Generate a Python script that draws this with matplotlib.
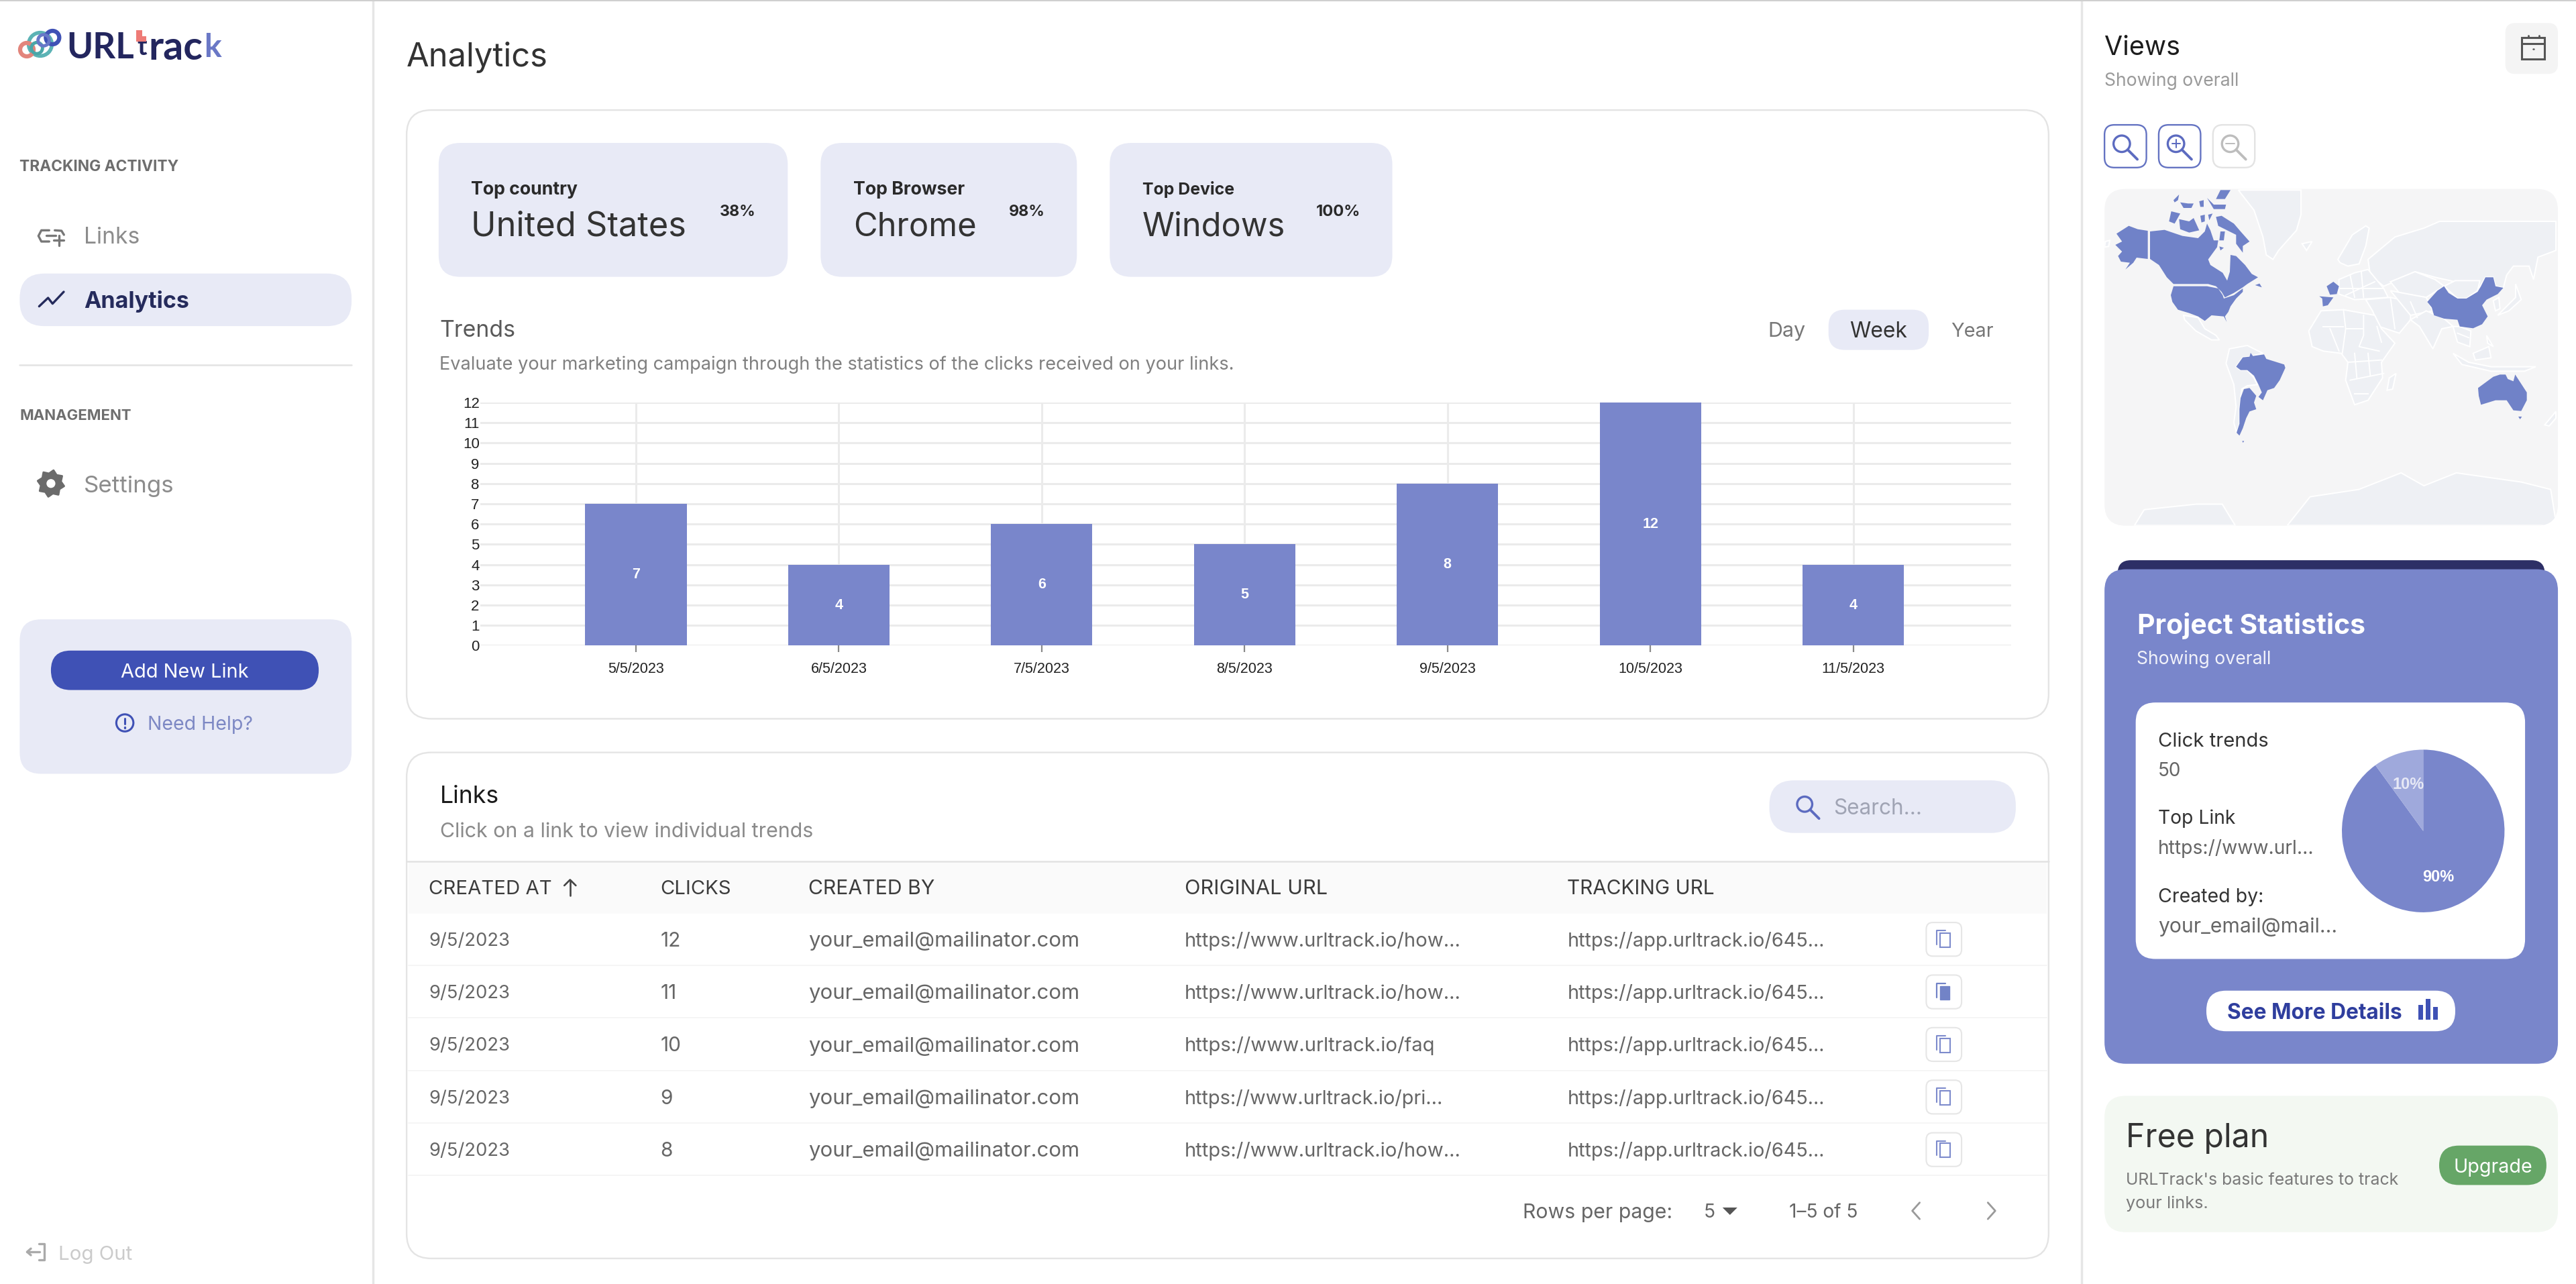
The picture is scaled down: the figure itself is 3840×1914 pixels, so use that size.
import math
import matplotlib
matplotlib.use("Agg")
import matplotlib.pyplot as plt
from matplotlib.patches import FancyBboxPatch, Polygon, Circle, Rectangle, Arc

# ---------- chart data ----------
dates = ["5/5/2023", "6/5/2023", "7/5/2023", "8/5/2023", "9/5/2023", "10/5/2023", "11/5/2023"]
clicks = [7, 4, 6, 5, 8, 12, 4]
pie_values = [90, 10]

stat_labels = ["Top country", "Top Browser", "Top Device"]
stat_values = ["United States", "Chrome", "Windows"]
stat_pcts = ["38%", "98%", "100%"]

headers = ["CREATED AT", "CLICKS", "CREATED BY", "ORIGINAL URL", "TRACKING URL"]
row_dates = ["9/5/2023"] * 5
row_clicks = ["12", "11", "10", "9", "8"]
row_by = ["your_email@mailinator.com"] * 5
row_orig = ["https://www.urltrack.io/how...", "https://www.urltrack.io/how...", "https://www.urltrack.io/faq",
            "https://www.urltrack.io/pri...", "https://www.urltrack.io/how..."]
row_track = ["https://app.urltrack.io/645..."] * 5

# ---------- palette ----------
INDIGO = "#7986cb"; LIGHT = "#e8eaf6"; PRIMARY = "#3f51b5"; NAVY = "#252b5c"

W, H = 3840, 1914
S = W / 1568.0
fig = plt.figure(figsize=(W / 100, H / 100), dpi=100, facecolor="white")
plt.rcParams["font.family"] = ["Inter", "DejaVu Sans"]
ui = fig.add_axes([0, 0, 1, 1])
ui.set_xlim(0, 1568); ui.set_ylim(H / S, 0); ui.axis("off")
renderer = fig.canvas.get_renderer()
PT = S * 0.72


def T(x, y, s, size=12, color="#333333", weight="normal", ha="left", w=None, family=None, z=5):
    kw = {"family": family} if family else {}
    t = ui.text(x, y, s, fontsize=size * PT, color=color, weight=weight, ha=ha, va="center_baseline", zorder=z, **kw)
    if w:
        bb = t.get_window_extent(renderer)
        t.set_fontsize(t.get_fontsize() * w * S / bb.width)
    return t


def RR(x0, y0, x1, y1, r, fc="none", ec="none", lw=0, z=1):
    p = FancyBboxPatch((x0, y0), x1 - x0, y1 - y0, boxstyle=f"round,pad=0,rounding_size={r}",
                       fc=fc, ec=ec, lw=lw, zorder=z)
    ui.add_patch(p)
    return p


def L(xs, ys, c="#888888", lw=2.0, z=6):
    ui.plot(xs, ys, color=c, lw=lw, solid_capstyle="round", solid_joinstyle="round", zorder=z)


def mag(cx, cy, r, c, lw=2.4, sign=None):
    ui.add_patch(Circle((cx, cy), r, fc="none", ec=c, lw=lw, zorder=6))
    L([cx + r * .72, cx + r * 1.9], [cy + r * .72, cy + r * 1.9], c, lw * 1.15)
    if sign:
        L([cx - r * .5, cx + r * .5], [cy, cy], c, lw * .6)
        if sign == "+":
            L([cx, cx], [cy - r * .5, cy + r * .5], c, lw * .6)


def g(ox, oy, k, pts):
    """crop-grid points -> layout units"""
    return [((ox + a / k) / S, (oy + b / k) / S) for a, b in pts]


# ---------- frame ----------
ui.add_patch(Rectangle((0, 0), 1568, 0.9, fc="#cfcfcf", ec="none", zorder=8))
L([227, 227], [0, 782], "#e6e6e6", 2.5, 1)
L([1267, 1267], [0, 782], "#e6e6e6", 2.5, 1)

# ---------- logo ----------
LO = (15, 30, 3)
def logo_arc(cx, cy, r, c, lw=4.5):
    (dx, dy), = g(*LO, [(cx, cy)])
    ui.add_patch(Circle((dx, dy), r / 3 / S, fc="none", ec=c, lw=lw, zorder=4))
logo_arc(135, 108, 52, "#5cb3b5", 4)
logo_arc(75, 132, 30, "#e2857c", 4.5)
logo_arc(190, 78, 30, "#3f51b5", 4.5)
logo_arc(120, 125, 25, "#4aa6a8", 3.5)
logo_arc(150, 90, 25, "#6878c8", 3.5)
T(40.5, 27.5, "URL", 21, "#23265e", "bold", w=41, family="Lato")
T(83.5, 27.5, "t", 21, "#23265e", "bold", w=6, family="Lato")
ui.add_patch(Polygon(g(*LO, [(565, 45), (590, 45), (590, 72), (610, 72), (610, 95), (565, 95)]), fc="#ee7b76", ec="none", zorder=6))
T(90.5, 27.5, "rac", 21, "#23265e", "bold", w=33, family="Lato")
T(124, 27.5, "k", 21, "#6a78c6", "bold", w=10.5, family="Lato")

# ---------- sidebar ----------
T(12, 100.5, "TRACKING ACTIVITY", 8.5, "#6e6e6e", "bold", w=97)
LK = (30, 320, 3)
for poly in [[(130, 70), (95, 70), (82, 95), (95, 120), (130, 120)], [(118, 93), (160, 93)], [(155, 70), (185, 72), (196, 90)],
             [(150, 115), (196, 115)], [(174, 93), (174, 137)]]:
    pts = g(*LK, poly)
    L([p[0] for p in pts], [p[1] for p in pts], "#777777", 2.4)
T(51, 143, "Links", 14, "#8c8c8c", w=34)
RR(12, 166.5, 214, 198.5, 15, fc=LIGHT)
pts = g(*LK, [(85, 410), (125, 372), (145, 398), (195, 345)])
L([p[0] for p in pts], [p[1] for p in pts], NAVY, 2.4)
T(51, 182, "Analytics", 14, NAVY, "bold", w=64)
L([12, 214], [222, 222], "#e3e3e3", 1.8, 2)
T(12, 252.5, "MANAGEMENT", 8.5, "#6e6e6e", "bold", w=68)
gear = []
for i in range(16):
    a = math.pi * 2 * i / 16 + math.pi / 16
    r = 8.2 if i % 2 == 0 else 6.2
    gear.append((31 + r * math.cos(a), 294.3 + r * math.sin(a)))
ui.add_patch(Polygon(gear, fc="#6b6b6b", ec="#6b6b6b", lw=2, joinstyle="round", zorder=5))
ui.add_patch(Circle((31, 294.3), 2.7, fc="white", ec="none", zorder=6))
T(51, 294.5, "Settings", 14, "#8c8c8c", w=55)
RR(12, 377, 214, 471, 13, fc=LIGHT)
RR(31, 396, 194, 420, 12, fc=PRIMARY, z=2)
T(112.5, 408, "Add New Link", 11, "white", ha="center", w=78)
ui.add_patch(Circle((76, 440), 5.2, fc="none", ec=PRIMARY, lw=2.2, zorder=6))
L([76, 76], [437.2, 440.5], PRIMARY, 2.2); L([76, 76], [442.8, 442.9], PRIMARY, 2.4)
T(90, 440, "Need Help?", 10.5, "#7d88c4", w=64)
L([23.5, 27, 27, 23.5], [757, 757, 767, 767], "#aaaaaa", 2.4)
L([16.5, 24], [762, 762], "#aaaaaa", 2.4); L([18.8, 16.5, 18.8], [760, 762, 764], "#aaaaaa", 2.4)
T(35.5, 762.5, "Log Out", 10.5, "#cbcbcb", w=45)

# ---------- main head ----------
T(247.5, 33, "Analytics", 18.5, "#333333", w=86)
RR(247.5, 67, 1247, 437.5, 15, fc="white", ec="#e4e4e4", lw=1.7)
stat_x = [(267, 479.5), (499.5, 655.5), (675.5, 847.5)]
stat_pct_x = [438, 614, 801]
stat_lab_w = [65, 68, 56]
stat_val_w = [131, 75, 87]
stat_pct_w = [22, 22, 27]
for (a, b), lab, val, pct, px, lw_, vw, pw in zip(stat_x, stat_labels, stat_values, stat_pcts, stat_pct_x, stat_lab_w, stat_val_w, stat_pct_w):
    RR(a, 87, b, 168.5, 13, fc=LIGHT, z=2)
    T(a + 19.8, 114.5, lab, 10, "#2a2a2a", "bold", w=lw_)
    T(a + 19.8, 136, val, 20, "#333333", w=vw)
    T(px, 128, pct, 10, "#2a2a2a", "bold", w=pw)
T(267.5, 200, "Trends", 14, "#5a5a5a", w=46)
T(267.5, 221, "Evaluate your marketing campaign through the statistics of the clicks received on your links.", 10, "#808080", w=483)
RR(1113, 188.5, 1174, 213, 10, fc=LIGHT, z=2)
T(1087.5, 200.5, "Day", 12.5, "#777777", ha="center", w=23)
T(1143.5, 200.5, "Week", 12.5, "#333333", ha="center", w=35)
T(1200.5, 200.5, "Year", 12.5, "#777777", ha="center", w=26)

# ---------- bar chart ----------
ax = fig.add_axes([292.4 * S / W, 1 - 393 * S / H, (1224 - 292.4) * S / W, (393 - 245) * S / H], zorder=3)
ax.patch.set_alpha(0)
xpos = list(range(len(dates)))
bars = ax.bar(xpos, clicks, width=0.5, color=INDIGO, zorder=3)
ax.set_xlim(-0.767, 6.777); ax.set_ylim(0, 12)
ax.set_yticks(range(0, 13)); ax.set_xticks(xpos, dates)
ax.grid(True, color="#ebebeb", lw=2.2, zorder=0); ax.set_axisbelow(True)
for s_ in ax.spines.values():
    s_.set_visible(False)
ax.tick_params(axis="y", length=0, pad=1, labelsize=16, labelcolor="#222222")
ax.tick_params(axis="x", length=7.5, width=1.6, color="#8a8a8a", pad=10, labelsize=15.5, labelcolor="#222222")
for lab in ax.get_xticklabels() + ax.get_yticklabels():
    lab.set_family("Liberation Sans")
ax.bar_label(bars, label_type="center", color="white", fontsize=15.5, fontweight="bold", family="Liberation Sans")

# ---------- links table ----------
RR(247.5, 458, 1247, 766, 15, fc="white", ec="#e4e4e4", lw=1.7)
T(268, 483.5, "Links", 16, "#1a1a1a", w=36)
T(268, 505, "Click on a link to view individual trends", 12, "#8a8a8a", w=227)
RR(1077, 475, 1227, 507, 15, fc=LIGHT, z=2)
mag(1098.5, 489.5, 4.6, "#5c6bc0", 2.4)
T(1116, 491, "Search...", 13, "#a0a4b4", w=54)
ui.add_patch(Rectangle((248.5, 524.5), 997.5, 31.5, fc="#fafafa", ec="none", zorder=2))
L([248, 1247], [524.5, 524.5], "#e2e2e2", 1.8, 3)
col_x = [261, 402, 492, 721, 954]
hdr_w = [75, 43, 77, 87, 90]
for x_, h_, w_ in zip(col_x, headers, hdr_w):
    T(x_, 540, h_, 12, "#3c3c3c", w=w_)
L([347, 347], [536, 545], "#444444", 1.9); L([343.5, 347, 350.5], [539, 535.5, 539], "#444444", 1.9)
row_y = [571.5, 603.5, 635.5, 667.5, 699.5]
orig_w = [168, 168, 152.5, 157, 168]
for i, y_ in enumerate(row_y):
    T(261, y_, row_dates[i], 12, "#666666", w=49.5)
    T(402, y_, row_clicks[i], 12.2, "#666666")
    T(492, y_, row_by[i], 12, "#666666", w=165)
    T(721, y_, row_orig[i], 12, "#666666", w=orig_w[i])
    T(954, y_, row_track[i], 12, "#666666", w=156.5)
    L([248.5, 1246], [y_ + 16, y_ + 16], "#f5f5f5", 1.4, 2)
    RR(1172.5, y_ - 10, 1194, y_ + 10.5, 4, fc="white", ec="#e6e6e6", lw=1.5, z=3)
    if i == 1:
        ui.add_patch(Rectangle((1180.8, y_ - 3.2), 5.8, 8.2, fc="#7283c7", ec="#7283c7", lw=1, zorder=6))
        L([1179, 1179, 1184], [y_ + 3.5, y_ - 5, y_ - 5], "#7283c7", 1.6)
    else:
        ui.add_patch(Rectangle((1181, y_ - 3.5), 6, 8.5, fc="white", ec="#7d8bcc", lw=1.5, zorder=6))
        L([1179, 1179, 1184], [y_ + 3.5, y_ - 5, y_ - 5], "#7d8bcc", 1.5)
T(927, 737, "Rows per page:", 12, "#666666", w=91)
T(1037, 737, "5", 12, "#666666", w=7)
ui.add_patch(Polygon([(1048.5, 735), (1057.5, 735), (1053, 739.5)], fc="#555555", ec="none", zorder=6))
T(1089, 737, "1\u20135 of 5", 12, "#666666", w=42)
L([1168.5, 1164, 1168.5], [732, 737, 742], "#9a9a9a", 2)
L([1210, 1214.5, 1210], [732, 737, 742], "#9a9a9a", 2)

# ---------- right panel ----------
T(1281, 27.5, "Views", 15, "#1c1c1c", w=46)
T(1281, 48, "Showing overall", 10.5, "#9a9a9a", w=82)
RR(1525, 14, 1557, 45, 6, fc="#f4f4f4", z=2)
ui.add_patch(Rectangle((1535, 23), 14, 13, fc="none", ec="#555555", lw=2.2, zorder=6))
L([1535, 1549], [26.5, 26.5], "#555555", 2.2)
L([1539, 1539], [21.5, 23], "#555555", 2); L([1545.5, 1545.5], [21.5, 23], "#555555", 2)
L([1539, 1539.1], [30, 30], "#555555", 1.8); L([1542, 1542.1], [30, 30], "#555555", 1.8); L([1545, 1545.1], [30, 30], "#555555", 1.8)
for bx, ec_, ic_, sg in [(1281, "#6473c2", "#5c6bc0", None), (1314, "#6473c2", "#5c6bc0", "+"), (1347, "#e3e3e3", "#bdbdbd", "-")]:
    RR(bx, 76, bx + 25.5, 102, 6, fc="white", ec=ec_, lw=1.7, z=2)
    mag(bx + 10.5, 87.5, 5, ic_, 2.4, sg)

# ---------- world map ----------
map_bg = RR(1281, 115, 1557, 320, 13, fc="#f5f5f6", z=2)
GA = (3130, 280, 3); GB = (3310, 510, 3); GC = (3430, 330, 3)
OLD = (3080, 0)
def old_grid(pts):
    return [((3080 + a / 2.063) / S, (b / 1.823) / S) for a, b in pts]

land_polys = [
    g(*GA, [(620, 10), (900, 10), (900, 120), (880, 190), (800, 280), (775, 320), (745, 300), (730, 220), (690, 100)]),
    g(*GA, [(375, 570), (440, 580), (470, 630), (520, 660), (535, 680), (500, 680), (430, 640), (380, 590)]),
    g(*GA, [(25, 240), (45, 235), (40, 262), (22, 265)]),
    g(*GB, [(40, 30), (120, 15), (190, 50), (130, 65), (100, 68), (70, 110), (90, 125), (120, 125), (150, 160), (165, 190), (120, 195), (95, 210), (90, 250), (85, 300), (85, 365), (72, 405), (60, 360), (70, 290), (60, 190), (25, 95)]),
    g(*GC, [(300, 170), (420, 70), (550, 30), (620, 0), (1140, 0), (1140, 130), (1060, 160), (1040, 260), (1020, 200), (950, 200), (920, 240), (905, 297), (870, 290), (860, 250), (825, 250), (790, 310), (740, 345), (690, 270), (600, 250), (510, 225), (440, 260), (370, 290), (310, 240)]),
    g(*GC, [(400, 270), (510, 225), (600, 260), (640, 290), (560, 340), (440, 320)]),
    g(*GC, [(690, 265), (800, 265), (790, 310), (740, 345), (700, 345), (640, 290)]),
    g(*GC, [(165, 170), (230, 60), (290, 20), (305, 30), (290, 110), (260, 190), (210, 200), (175, 185)]),
    g(*GC, [(170, 260), (240, 230), (300, 215), (370, 300), (390, 340), (240, 350), (170, 325)]),
    g(*GC, [(290, 350), (400, 340), (490, 360), (490, 440), (440, 500), (350, 470), (320, 400)]),
    g(*GC, [(400, 310), (560, 340), (590, 400), (490, 420)]),
    g(*GC, [(490, 440), (560, 400), (640, 435), (680, 470), (630, 480), (590, 570), (560, 520), (530, 470)]),
    g(*GC, [(680, 470), (710, 470), (760, 490), (755, 560), (700, 540)]),
    g(*GC, [(35, 490), (90, 400), (190, 395), (330, 420), (360, 480), (420, 545), (360, 630), (365, 700), (300, 800), (240, 820), (200, 710), (210, 630), (180, 590), (100, 580), (50, 560)]),
    g(*GC, [(385, 755), (395, 700), (425, 680), (410, 750)]),
    g(*GC, [(680, 590), (750, 630), (850, 650), (1050, 650), (1000, 670), (850, 670), (720, 640)]),
    g(*GC, [(770, 590), (840, 560), (850, 610), (780, 620)]),
    g(*GC, [(830, 510), (860, 560), (835, 545)]),
    g(*GC, [(880, 420), (960, 340), (960, 280), (985, 350), (930, 400)]),
    g(*GC, [(860, 355), (885, 340), (890, 390), (870, 400)]),
    g(*GC, [(5, 100), (50, 90), (25, 130)]),
    g(*GC, [(1090, 910), (1140, 850), (1140, 880), (1110, 915)]),
    old_grid([(680, 1428), (750, 1350), (900, 1330), (1030, 1285), (1100, 1320), (1200, 1285), (1400, 1310), (1490, 1330), (1508, 1428)]),
    old_grid([(210, 1428), (240, 1385), (400, 1370), (480, 1370), (520, 1428)]),
]
for poly in land_polys:
    p = Polygon(poly, fc="#eef0f4", ec="white", lw=1.5, zorder=3)
    ui.add_patch(p); p.set_clip_path(map_bg)

border_lines = [
    [(190, 395), (200, 480), (185, 590)], [(280, 420), (280, 510), (260, 560), (350, 580)], [(100, 470), (190, 470)],
    [(200, 480), (280, 480)], [(210, 630), (360, 620)], [(220, 710), (370, 680)], [(240, 770), (300, 770)], [(340, 470), (360, 540)],
    [(300, 590), (310, 690)], [(240, 590), (250, 700)], [(130, 480), (170, 580)],
    [(220, 240), (240, 340)], [(270, 225), (280, 340)], [(170, 300), (370, 300)], [(200, 330), (330, 270)],
    [(400, 340), (420, 480)], [(490, 360), (520, 430)], [(700, 500), (750, 520)],
]
for ln in border_lines:
    pts = g(*GC, ln)
    ui.plot([p[0] for p in pts], [p[1] for p in pts], color="white", lw=1.4, zorder=3.5)

seen_polys = [
    g(*GA, [(75, 205), (130, 170), (170, 185), (215, 192), (215, 318), (190, 315), (165, 312), (150, 335), (115, 365), (135, 335), (95, 330), (82, 305), (100, 285), (70, 255), (100, 240)]),
    g(*GA, [(225, 195), (290, 188), (340, 205), (370, 215), (440, 225), (470, 195), (480, 160), (495, 190), (510, 235), (530, 235), (525, 265), (485, 320), (495, 345), (550, 380), (570, 415), (582, 375), (585, 300), (610, 305), (650, 345), (680, 385), (708, 400), (660, 430), (640, 445), (600, 470), (560, 490), (545, 465), (520, 440), (485, 430), (330, 430), (300, 400), (265, 345), (225, 318)]),
    g(*GA, [(520, 130), (545, 125), (600, 160), (630, 195), (670, 240), (640, 260), (640, 290), (610, 250), (610, 210), (570, 190), (530, 170)]),
    g(*GA, [(355, 140), (400, 150), (420, 135), (445, 190), (400, 200), (360, 185)]),
    g(*GA, [(320, 105), (360, 115), (335, 160), (310, 150)]),
    g(*GA, [(330, 55), (355, 30), (350, 55), (335, 65)]),
    g(*GA, [(360, 65), (395, 70), (420, 70), (410, 90), (375, 90)]),
    g(*GA, [(445, 60), (465, 55), (465, 85), (450, 85)]),
    g(*GA, [(480, 45), (510, 75), (565, 75), (560, 95), (510, 95)]),
    g(*GA, [(540, 10), (585, 10), (560, 50), (520, 50)]),
    g(*GA, [(450, 125), (470, 120), (470, 150), (455, 155)]),
    g(*GA, [(485, 120), (505, 115), (490, 145)]),
    g(*GA, [(535, 262), (555, 268), (540, 280)]),
    g(*GA, [(540, 195), (560, 195), (555, 235), (535, 235)]),
    g(*GA, [(695, 435), (715, 428), (725, 445)]),
    g(*GA, [(330, 440), (480, 440), (530, 450), (550, 480), (555, 495), (600, 480), (640, 450), (640, 465), (610, 495), (585, 530), (575, 555), (560, 575), (568, 600), (555, 575), (500, 570), (470, 595), (440, 575), (400, 560), (350, 545), (325, 510), (318, 480)]),
    g(*GB, [(70, 110), (100, 68), (130, 65), (135, 48), (145, 62), (195, 55), (205, 75), (285, 100), (290, 115), (265, 170), (240, 205), (210, 215), (190, 260), (170, 245), (185, 225), (170, 190), (150, 150), (120, 125), (90, 125)]),
    g(*GB, [(105, 210), (130, 205), (160, 240), (150, 270), (160, 300), (130, 310), (115, 340), (105, 370), (100, 385), (85, 418), (72, 405), (85, 365), (85, 300), (90, 250)]),
    g(*GB, [(97, 442), (106, 442), (101, 450)]),
    g(*GC, [(115, 290), (145, 270), (170, 290), (160, 325), (130, 328)]),
    g(*GC, [(82, 335), (145, 340), (120, 375), (98, 380), (95, 345)]),
    g(*GC, [(565, 360), (610, 310), (640, 290), (660, 320), (700, 345), (740, 345), (790, 315), (805, 290), (825, 250), (860, 250), (870, 290), (905, 297), (880, 325), (830, 350), (810, 375), (835, 425), (810, 460), (770, 478), (710, 470), (700, 440), (640, 435), (595, 420), (585, 385)]),
    g(*GC, [(792, 745), (860, 695), (890, 685), (915, 685), (925, 705), (950, 715), (958, 685), (1010, 765), (1010, 800), (985, 848), (950, 845), (920, 800), (870, 800), (805, 820), (795, 780)]),
    g(*GC, [(972, 873), (988, 873), (980, 885)]),
]
for poly in seen_polys:
    p = Polygon(poly, fc="#7082c8", ec="none", zorder=4)
    ui.add_patch(p); p.set_clip_path(map_bg)

# ---------- project statistics ----------
RR(1289, 341, 1549, 360, 8, fc="#2d2f66", z=2)
RR(1281, 346.5, 1557, 647.5, 13, fc=INDIGO, z=3)
T(1301, 379.5, "Project Statistics", 16.5, "white", "bold", w=139)
T(1300.5, 400, "Showing overall", 10, "#f1f2fa", w=82)
RR(1300, 427.6, 1537, 583.7, 12, fc="white", z=4)
info = [(450, "Click trends", "#333333", 67), (468, "50", "#666666", 14), (497, "Top Link", "#333333", 47),
        (515.5, "https://www.url...", "#666666", 95), (545, "Created by:", "#333333", 64), (563, "your_email@mail...", "#666666", 108.5)]
for y_, s_, c_, w_ in info:
    T(1313.5, y_, s_, 11.5, c_, w=w_)
R_ = 49.5
pa = fig.add_axes([(1475 - R_) * S / W, 1 - (505.8 + R_) * S / H, 2 * R_ * S / W, 2 * R_ * S / H], zorder=6)
wedges, _, auto = pa.pie(pie_values, colors=[INDIGO, "#9fa9dc"], startangle=90, counterclock=False,
                         radius=1.0, autopct="%d%%", pctdistance=0.6,
                         textprops=dict(color="white", fontsize=17, fontweight="bold", family="Liberation Sans"))
auto[1].set_color("#e6e8f5")
pa.set_xlim(-1, 1); pa.set_ylim(-1, 1)
RR(1343, 603, 1494.5, 627.7, 12, fc="white", z=4)
T(1355.5, 615.5, "See More Details", 11, "#2f3e9e", "bold", w=106.5)
for bx_, bt in [(1472, 611.5), (1476.5, 608), (1481, 613)]:
    ui.add_patch(Rectangle((bx_, bt), 3, 620.5 - bt, fc=PRIMARY, ec="none", zorder=6))

# ---------- free plan ----------
RR(1281, 667, 1557, 750, 13, fc="#f3f8f2", z=2)
T(1294, 691, "Free plan", 19, "#333333", w=87)
T(1294, 717.5, "URLTrack's basic features to track", 10, "#7a7a7a", w=166)
T(1294, 731.5, "your links.", 10, "#7a7a7a", w=50)
RR(1484.7, 697.3, 1550, 721.3, 12, fc="#66a667", z=3)
T(1517.5, 709.5, "Upgrade", 11, "white", ha="center", w=48)

fig.savefig("out.png", dpi=100, facecolor="white")
